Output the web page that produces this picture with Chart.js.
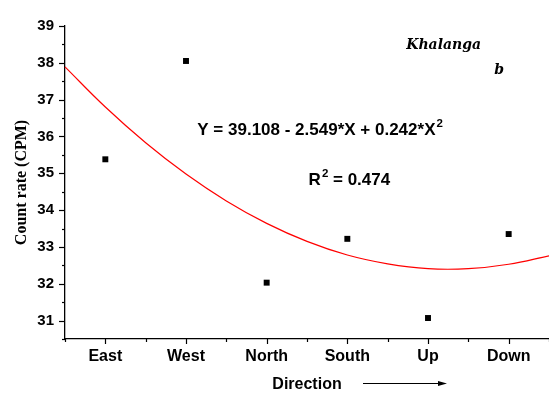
<!DOCTYPE html>
<html lang="en">
<head>
  <meta charset="UTF-8">
  <title>Count rate | Khalanga</title>
  <script src="https://cdn.jsdelivr.net/npm/chart.js"></script>
  <style>
    html, body { margin: 0; padding: 0; background: #fff; }
  </style>
</head>
<body>
  <canvas id="grafico" width="549" height="394"></canvas>

<script>
  // dados
  const direcoes = ['East', 'West', 'North', 'South', 'Up', 'Down']
  const posicoes = [1, 2, 3, 4, 5, 6]
  const contagem = [35.38, 38.05, 32.03, 33.22, 31.07, 33.35]

  // curva de ajuste (vermelha), lida ponto a ponto
  const curvaX = [0.5, 1, 1.5, 2, 2.5, 3, 3.5, 4, 4.5, 5, 5.5, 6, 6.5]
  const curvaY = [37.89, 36.80, 35.83, 34.98, 34.25, 33.64, 33.15, 32.78, 32.54, 32.41, 32.41, 32.53, 32.76]

  const ticksY = [31, 32, 33, 34, 35, 36, 37, 38, 39]

  const equacao = 'Y = 39.108 - 2.549*X + 0.242*X'
  const textoR2 = 'R'
  const valorR2 = ' = 0.474'
  const local = 'Khalanga'
  const painel = 'b'

  const fonteSans = 'Liberation Sans, Arial, sans-serif'
  const fonteSerif = 'DejaVu Serif, serif'

  // desenha os ticks (maiores e menores) e os textos
  const extras = {
    id: 'extras',
    afterDraw(chart) {
      const c = chart.ctx
      const x = chart.scales.x
      const y = chart.scales.y
      const area = chart.chartArea

      c.save()
      c.strokeStyle = '#000'
      c.lineWidth = 1.2
      for (let v = 0.5; v <= 6.5; v += 0.5) {
        const px = Math.round(x.getPixelForValue(v)) + 0.5
        const len = Number.isInteger(v) ? 5 : 3
        c.beginPath()
        c.moveTo(px, area.bottom)
        c.lineTo(px, area.bottom + len)
        c.stroke()
      }
      for (let v = 30.5; v <= 39; v += 0.5) {
        const py = Math.round(y.getPixelForValue(v)) + 0.5
        const len = Number.isInteger(v) ? 6 : 3
        c.beginPath()
        c.moveTo(area.left, py)
        c.lineTo(area.left - len, py)
        c.stroke()
      }

      // equacao
      c.fillStyle = '#000'
      c.textBaseline = 'middle'
      c.textAlign = 'left'
      c.font = 'bold 17px ' + fonteSans
      let ex = x.getPixelForValue(2.14)
      let ey = y.getPixelForValue(36.17)
      c.fillText(equacao, ex, ey)
      let w = c.measureText(equacao).width
      c.font = 'bold 11.5px ' + fonteSans
      c.fillText('2', ex + w + 1, ey - 6)

      // R2
      c.font = 'bold 17px ' + fonteSans
      let rx = x.getPixelForValue(3.52)
      let ry = y.getPixelForValue(34.81)
      c.fillText(textoR2, rx, ry)
      let wr = c.measureText(textoR2).width
      c.font = 'bold 11.5px ' + fonteSans
      c.fillText('2', rx + wr + 1, ry - 6)
      let w2 = c.measureText('2').width
      c.font = 'bold 17px ' + fonteSans
      c.fillText(valorR2, rx + wr + w2 + 1, ry)

      // Khalanga e b
      c.font = 'italic bold 14px ' + fonteSerif
      c.fillText(local, x.getPixelForValue(4.73), y.getPixelForValue(38.48))
      c.fillText(painel, x.getPixelForValue(5.82), y.getPixelForValue(37.8))

      // seta depois de "Direction"
      const meio = (area.left + area.right) / 2
      const ay = 383.5
      c.lineWidth = 1.2
      c.beginPath()
      c.moveTo(meio + 56, ay)
      c.lineTo(meio + 132, ay)
      c.stroke()
      c.beginPath()
      c.moveTo(meio + 140, ay)
      c.lineTo(meio + 131, ay - 2.5)
      c.lineTo(meio + 131, ay + 2.5)
      c.closePath()
      c.fill()
      c.restore()
    }
  }

  const pontos = posicoes.map((p, i) => ({ x: p, y: contagem[i] }))
  const curva = curvaX.map((p, i) => ({ x: p, y: curvaY[i] }))

  new Chart(document.getElementById('grafico'), {
    type: 'scatter',
    data: {
      datasets: [{
        label: 'Count rate',
        data: pontos,
        pointStyle: 'rect',
        pointRadius: 4.2,
        backgroundColor: '#000',
        borderColor: '#000',
        borderWidth: 0
      }, {
        label: 'Ajuste',
        data: curva,
        showLine: true,
        pointRadius: 0,
        borderColor: '#ff0000',
        borderWidth: 1.2,
        tension: 0.4
      }]
    },
    options: {
      responsive: false,
      animation: false,
      clip: false,
      layout: { autoPadding: false, padding: { top: 26, right: 0, left: 0, bottom: 0 } },
      plugins: {
        legend: { display: false },
        tooltip: { enabled: false }
      },
      scales: {
        x: {
          type: 'linear',
          min: 0.5,
          max: 6.5,
          afterBuildTicks(scale) {
            scale.ticks = posicoes.map(v => ({ value: v }))
          },
          afterFit(scale) {
            scale.height = 55
            scale.paddingLeft = 0
            scale.paddingRight = 0
          },
          ticks: {
            autoSkip: false,
            maxRotation: 0,
            padding: 3,
            color: '#000',
            font: { family: fonteSans, size: 16, weight: 'bold' },
            callback: (v) => direcoes[posicoes.indexOf(v)] || ''
          },
          grid: { drawOnChartArea: false, tickLength: 5, tickColor: 'transparent' },
          border: { color: '#000', width: 1.3 },
          title: {
            display: true,
            text: 'Direction',
            color: '#000',
            padding: { top: 0, bottom: 0 },
            font: { family: fonteSans, size: 16, weight: 'bold' }
          }
        },
        y: {
          min: 30.5,
          max: 39,
          afterBuildTicks(scale) {
            scale.ticks = ticksY.map(v => ({ value: v }))
          },
          afterFit(scale) { scale.width = 65 },
          ticks: {
            padding: 5,
            color: '#000',
            font: { family: fonteSans, size: 15, weight: 'bold' }
          },
          grid: { drawOnChartArea: false, tickLength: 6, tickColor: 'transparent' },
          border: { color: '#000', width: 1.3 },
          title: {
            display: true,
            text: 'Count rate (CPM)',
            color: '#000',
            padding: { top: 12, bottom: 0 },
            font: { family: 'Liberation Serif, serif', size: 16, weight: 'bold' }
          }
        }
      }
    },
    plugins: [extras]
  });
</script>
</body>
</html>
